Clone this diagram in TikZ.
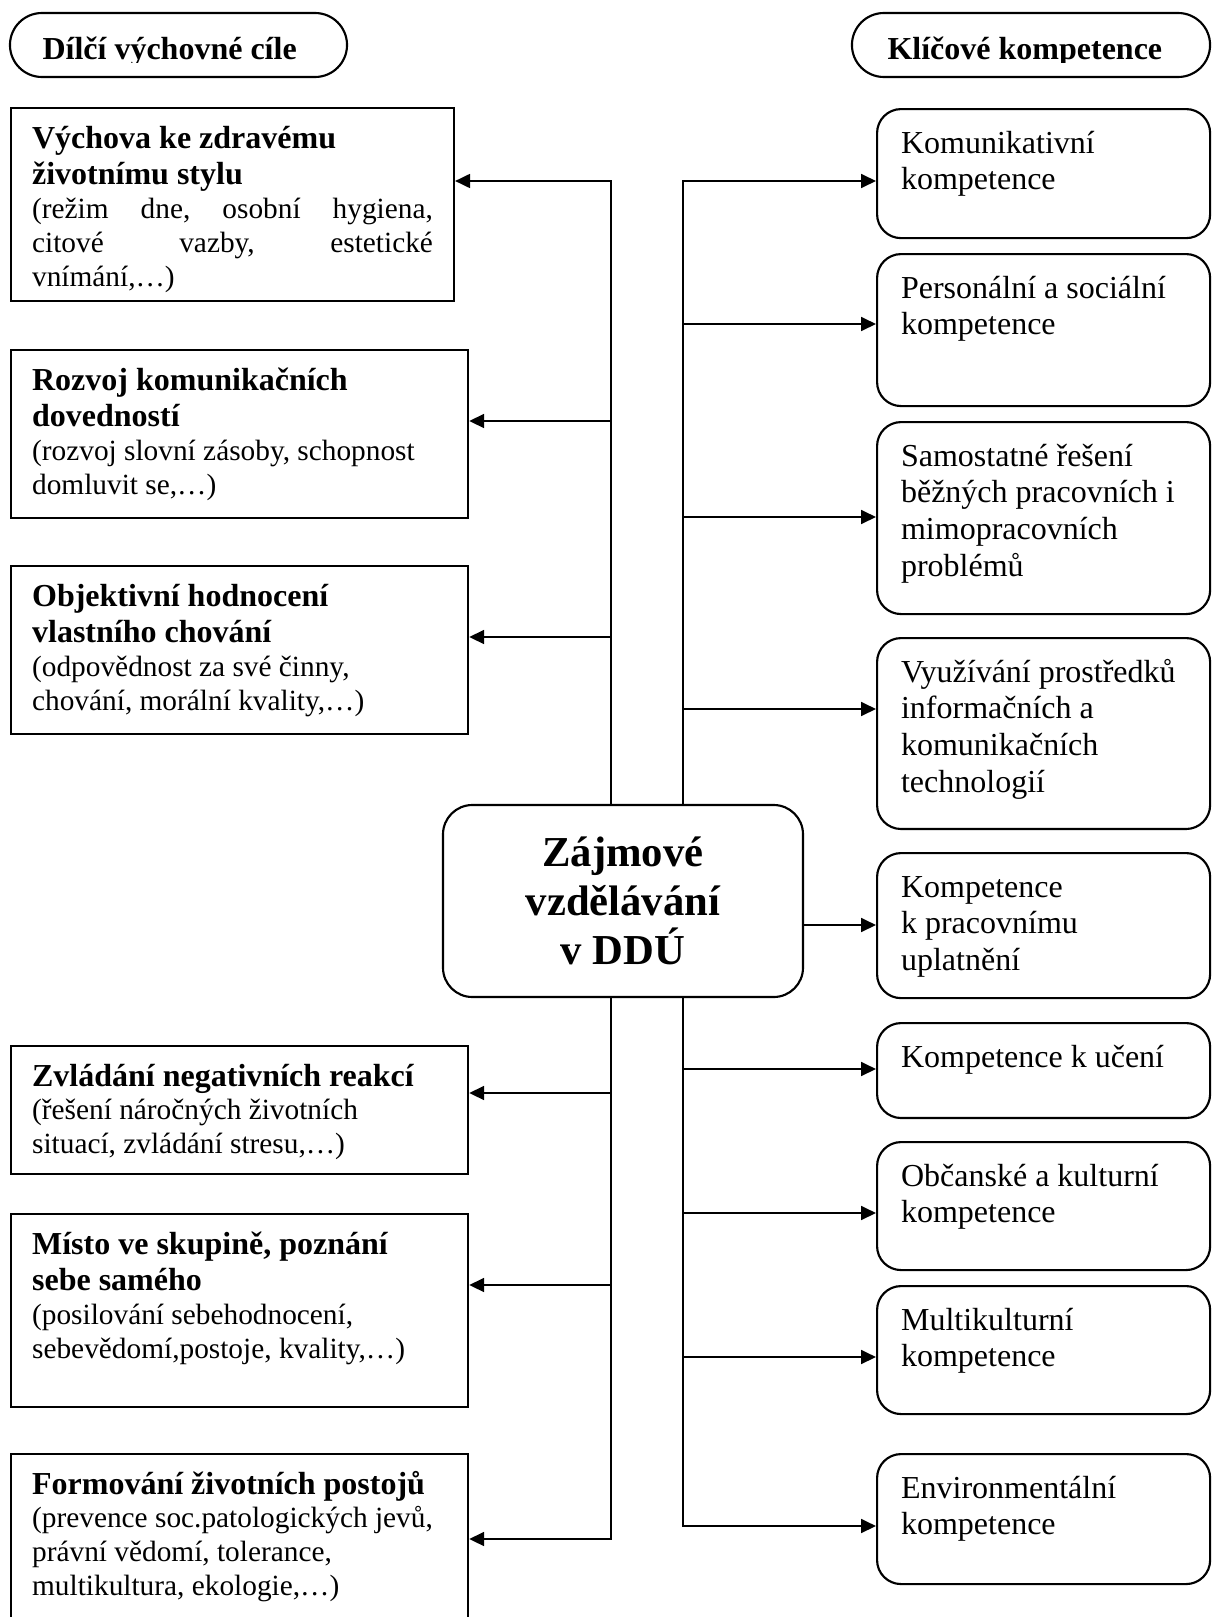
\documentclass[tikz,border=0pt]{standalone}
\usepackage{fontspec}
\setmainfont{Liberation Serif}
\usetikzlibrary{arrows.meta}
\newcommand{\topbox}[3]{\parbox[c][#2][t]{#1}{#3}}
\newcommand{\goalfont}{\fontsize{11}{12.65}\selectfont}
\newcommand{\headfont}{\fontsize{12}{13.8}\selectfont\bfseries}
\tikzset{
  goalbox/.style={draw,line width=.8pt,anchor=north west,inner xsep=7.9pt,inner ysep=0pt},
  keybox/.style={draw,line width=.8pt,rounded corners=9pt,anchor=north west,inner xsep=9pt,inner ysep=0pt,
    font=\fontsize{12}{13.8}\selectfont},
  hubbox/.style={draw,line width=.8pt,rounded corners=11pt,minimum width=135pt,minimum height=72pt,
    align=center,font=\fontsize{16}{18.4}\selectfont\bfseries},
  headoval/.style={draw,line width=.8pt,rounded corners=12pt,minimum height=24pt},
  arr/.style={line width=.8pt,-{Triangle[length=5.6pt,width=5.2pt]}}
}
\begin{document}
\begin{tikzpicture}[x=0.375pt,y=-0.375pt]
\useasboundingbox (0,0) rectangle (1211,1617);
%headings
\node[headoval,minimum width=126.4pt] (hl) at (178.5,45){};
\node[headoval,minimum width=134.3pt] (hr) at (1031,45){};
\begin{scope}
\clip (0,0) rectangle (1211,62); %text cut at the bottom
\node[anchor=base west,inner sep=0pt,font=\headfont] (hlt) at (42,59){Dílčí výchovné cíle};
\node[anchor=base west,inner sep=0pt,font=\headfont] (hrt) at (887,59){Klíčové kompetence};
\end{scope}
%centre
\node[hubbox] (zv) at (623,901){Zájmové\\vzdělávání\\v DDÚ};
%goals (left)
\node[goalbox] (g1) at (10,107){\topbox{150.3pt}{72.4pt}{\rule{0pt}{15pt}{\headfont Výchova ke zdravému\\ životnímu stylu\par}%
  \goalfont (režim\hfill dne,\hfill osobní\hfill hygiena,\\ citové\hfill vazby,\hfill estetické\\ vnímání,…)}};
\node[goalbox] (g2) at (10,349){\topbox{155.6pt}{63pt}{\rule{0pt}{15pt}{\headfont Rozvoj komunikačních\\ dovedností\par}%
  \goalfont (rozvoj slovní zásoby, schopnost\\ domluvit se,…)}};
\node[goalbox] (g3) at (10,565){\topbox{155.6pt}{63pt}{\rule{0pt}{15pt}{\headfont Objektivní hodnocení\\ vlastního chování\par}%
  \goalfont (odpovědnost za své činny,\\ chování, morální kvality,…)}};
\node[goalbox] (g4) at (10,1045){\topbox{155.6pt}{48pt}{\rule{0pt}{15pt}{\headfont Zvládání negativních reakcí\par}%
  \goalfont (řešení náročných životních\\ situací, zvládání stresu,…)}};
\node[goalbox] (g5) at (10,1213){\topbox{155.6pt}{72.4pt}{\rule{0pt}{15pt}{\headfont Místo ve skupině, poznání\\ sebe samého\par}%
  \goalfont (posilování sebehodnocení,\\ sebevědomí,postoje, kvality,…)}};
\node[goalbox] (g6) at (10,1453){\topbox{155.6pt}{70pt}{\rule{0pt}{15pt}{\headfont Formování životních postojů\par}%
  \goalfont (prevence soc.patologických jevů,\\ právní vědomí, tolerance,\\ multikultura, ekologie,…)}};
%competences (right)
\node[keybox] (k1) at (876,108){\topbox{106.9pt}{48.4pt}{\raggedright\rule{0pt}{16.5pt}Komunikativní\\ kompetence}};
\node[keybox] (k2) at (876,253){\topbox{106.9pt}{57pt}{\raggedright\rule{0pt}{16.5pt}Personální a sociální\\ kompetence}};
\node[keybox] (k3) at (876,421){\topbox{106.9pt}{72pt}{\raggedright\rule{0pt}{16.5pt}Samostatné řešení\\ běžných pracovních i\\ mimopracovních\\ problémů}};
\node[keybox] (k4) at (876,637){\topbox{106.9pt}{71.6pt}{\raggedright\rule{0pt}{16.5pt}Využívání prostředků\\ informačních a\\ komunikačních\\ technologií}};
\node[keybox] (k5) at (876,852){\topbox{106.9pt}{54.4pt}{\raggedright\rule{0pt}{16.5pt}Kompetence\\ k pracovnímu\\ uplatnění}};
\node[keybox] (k6) at (876,1022){\topbox{106.9pt}{35.6pt}{\raggedright\rule{0pt}{16.5pt}Kompetence k učení}};
\node[keybox] (k7) at (876,1141){\topbox{106.9pt}{48pt}{\raggedright\rule{0pt}{16.5pt}Občanské a kulturní\\ kompetence}};
\node[keybox] (k8) at (876,1285){\topbox{106.9pt}{48pt}{\raggedright\rule{0pt}{16.5pt}Multikulturní\\ kompetence}};
\node[keybox] (k9) at (876,1453){\topbox{106.9pt}{48.75pt}{\raggedright\rule{0pt}{16.5pt}Environmentální\\ kompetence}};
%branch points
\coordinate (l1) at (611,181); \coordinate (l2) at (611,421); \coordinate (l3) at (611,637);
\coordinate (l4) at (611,1093); \coordinate (l5) at (611,1285); \coordinate (l6) at (611,1539);
\coordinate (r1) at (683,181); \coordinate (r2) at (683,324); \coordinate (r3) at (683,517);
\coordinate (r4) at (683,709); \coordinate (r5) at (683,925); \coordinate (r6) at (683,1069);
\coordinate (r7) at (683,1213); \coordinate (r8) at (683,1357); \coordinate (r9) at (683,1526);
%connectors
\draw[arr] (zv.north -| l1) -- (l1) -- (l1 -| g1.east);
\draw[arr] (zv.south -| l6) -- (l6) -- (l6 -| g6.east);
\foreach \i in {2,...,5} \draw[arr] (l\i) -- (l\i -| g\i.east);
\draw[arr] (zv.north -| r1) -- (r1) -- (r1 -| k1.west);
\draw[arr] (zv.south -| r9) -- (r9) -- (r9 -| k9.west);
\foreach \i in {2,3,4,6,7,8} \draw[arr] (r\i) -- (r\i -| k\i.west);
\draw[arr] (r5 -| zv.east) -- (r5 -| k5.west);
\end{tikzpicture}
\end{document}
